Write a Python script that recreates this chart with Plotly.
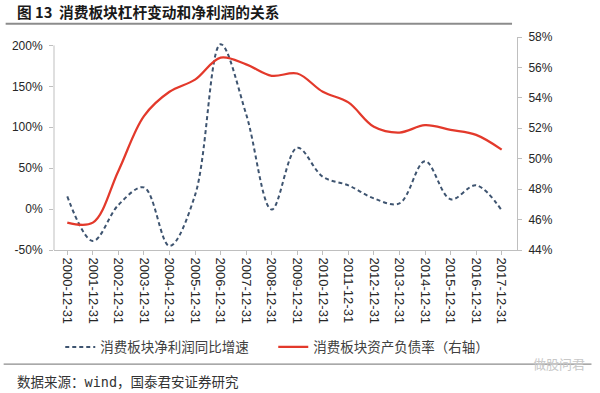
import plotly.graph_objects as go

categories = ["2000-12-31", "2001-12-31", "2002-12-31", "2003-12-31", "2004-12-31",
              "2005-12-31", "2006-12-31", "2007-12-31", "2008-12-31", "2009-12-31",
              "2010-12-31", "2011-12-31", "2012-12-31", "2013-12-31", "2014-12-31",
              "2015-12-31", "2016-12-31", "2017-12-31"]
profit_growth = [15.5, -39, 5, 26.5, -45, 17, 201.5, 116, -0.5, 75,
                 39.5, 29, 13, 7, 58.5, 12, 29, -1.5]
debt_ratio = [45.8, 45.8, 49.2, 52.8, 54.4, 55.2, 56.65, 56.2, 55.45, 55.6,
              54.4, 53.7, 52.1, 51.72, 52.2, 51.9, 51.57, 50.6]
left_ticks = [-50, 0, 50, 100, 150, 200]
right_ticks = [44, 46, 48, 50, 52, 54, 56, 58]

W, H = 600, 393
L, R, T, B = 50.7, 517.0, 37.3, 250.0
PW, PH = R - L, B - T
LEFT_TOP_PX = 45.7


def px(x):
    return (x - L) / PW


def py(y):
    return (B - y) / PH


left_top = 200 + (LEFT_TOP_PX - T) / (204.0 / 250.0)

fig = go.Figure()
fig.add_trace(go.Scatter(
    x=categories, y=profit_growth, name="消费板块净利润同比增速",
    mode="lines", line=dict(color="#3E5470", width=2, dash="4px,3px", shape="spline", smoothing=1.0),
    yaxis="y"))
fig.add_trace(go.Scatter(
    x=categories, y=debt_ratio, name="消费板块资产负债率（右轴）",
    mode="lines", line=dict(color="#E3392B", width=2.25, shape="spline", smoothing=1.0),
    yaxis="y2"))

axis_font = dict(family="Liberation Sans, Arial", size=12, color="#262626")

fig.update_layout(
    width=W, height=H,
    margin=dict(l=L, r=W - R, t=T, b=H - B, pad=0),
    paper_bgcolor="white", plot_bgcolor="white",
    showlegend=True,
    legend=dict(orientation="h", x=px(57), y=py(347), xanchor="left", yanchor="middle",
                font=dict(family="Noto Sans CJK SC", size=13.5, color="#404040"),
                entrywidth=168, entrywidthmode="pixels", bgcolor="rgba(0,0,0,0)"),
    xaxis=dict(type="category", range=[-0.52, 17.6], showline=True, linecolor="#BFBFBF",
               linewidth=1, ticks="outside", ticklen=4, tickcolor="#BFBFBF",
               tickangle=90, tickfont=dict(family="Liberation Sans, Arial", size=13, color="#262626"),
               showgrid=False, zeroline=False, fixedrange=True),
    yaxis=dict(range=[-50, left_top], tickvals=left_ticks,
               ticktext=[f"{v}%" for v in left_ticks], showline=False,
               ticks="outside", ticklen=4, tickcolor="#BFBFBF", ticklabelstandoff=4,
               tickfont=axis_font, showgrid=False, zeroline=False),
    yaxis2=dict(range=[44, 58], tickvals=right_ticks, ticktext=[f"{v}%" for v in right_ticks],
                overlaying="y", side="right", showline=True, linecolor="#BFBFBF",
                ticks="outside", ticklen=4, tickcolor="#BFBFBF", ticklabelstandoff=4,
                tickfont=axis_font, showgrid=False, zeroline=False),
    shapes=[
        dict(type="line", xref="paper", yref="paper", x0=px(2), x1=px(512), y0=py(24), y1=py(24),
             line=dict(color="#8C8C8C", width=2)),
        dict(type="line", xref="paper", yref="paper", x0=px(0), x1=px(592), y0=py(364), y1=py(364),
             line=dict(color="#8C8C8C", width=1.2)),
        dict(type="line", xref="paper", yref="paper", x0=0, x1=0, y0=0, y1=py(LEFT_TOP_PX),
             line=dict(color="#BFBFBF", width=1)),
    ],
    annotations=[
        dict(text="<b>图 13  消费板块杠杆变动和净利润的关系</b>", xref="paper", yref="paper",
             x=px(11), y=py(12), xanchor="left", yanchor="middle", showarrow=False,
             font=dict(family="Noto Sans CJK SC", size=14.7, color="#1a1a1a")),
        dict(text="数据来源：<span style=\"font-family:'DejaVu Sans Mono'\">wind</span>，国泰君安证券研究",
             xref="paper", yref="paper",
             x=px(11), y=py(381), xanchor="left", yanchor="middle", showarrow=False,
             font=dict(family="Noto Sans CJK SC", size=13.5, color="#333333")),
        dict(text="做股问君", xref="paper", yref="paper",
             x=px(588), y=py(363), xanchor="right", yanchor="middle", showarrow=False,
             font=dict(family="Noto Sans CJK SC", size=13, color="#C8C8C8")),
    ],
)

fig.write_html("out.html", config={"displayModeBar": False},
               post_script="document.body.style.margin='0';document.body.style.padding='0';")
